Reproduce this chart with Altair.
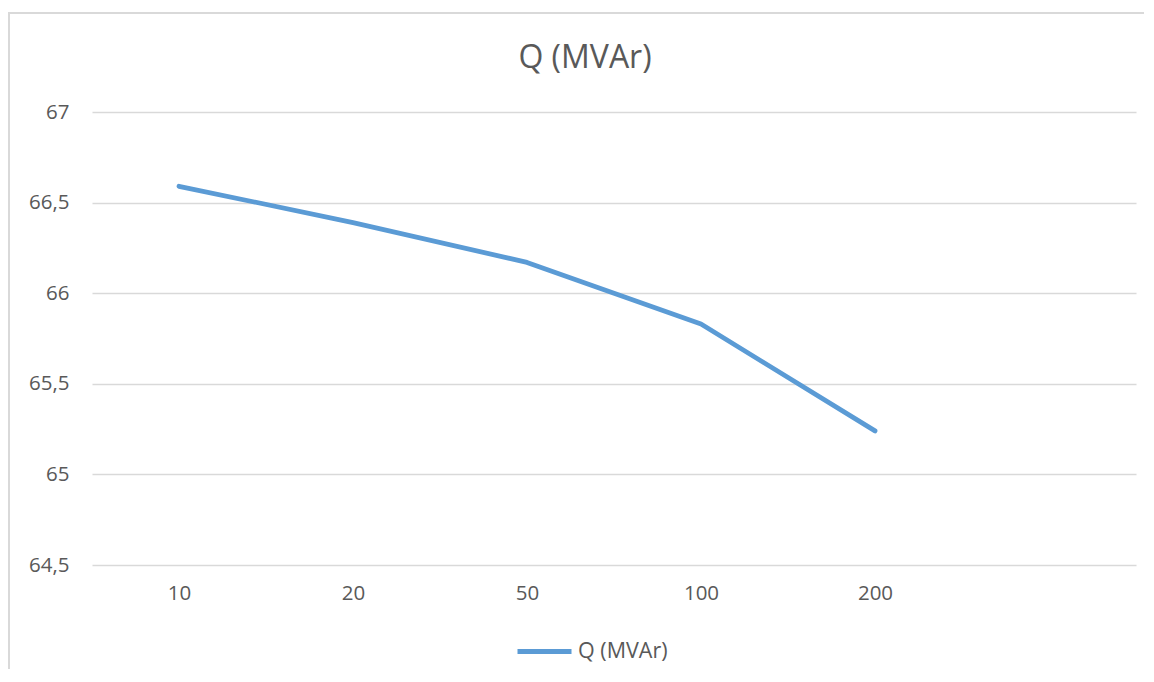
import altair as alt
import pandas as pd

categories = ["10", "20", "50", "100", "200"]
values = [66.59, 66.39, 66.17, 65.83, 65.24]
series_name = "Q (MVAr)"
x_domain = categories + [" "]
y_ticks = [64.5, 65.0, 65.5, 66.0, 66.5, 67.0]

df = pd.DataFrame({"cat": categories, "val": values, "series": [series_name] * len(categories)})

FONT = "Open Sans"
GRAY = "#595959"
BLUE = "#5B9BD5"
LABEL_SIZE = 20.5

one = pd.DataFrame({"t": [series_name]})

border_top = alt.Chart(one).mark_rule(stroke="#d9d9d9", strokeWidth=2).encode(
    x=alt.value(-83), x2=alt.value(1100), y=alt.value(-99)
)
border_left = alt.Chart(one).mark_rule(stroke="#d9d9d9", strokeWidth=2).encode(
    x=alt.value(-83), y=alt.value(-100), y2=alt.value(700)
)

title = alt.Chart(one).mark_text(
    font=FONT, fontSize=32, color=GRAY, align="center", baseline="middle"
).encode(
    text="t:N", x=alt.value(493), y=alt.value(-54)
)

line = alt.Chart(df).mark_line(strokeWidth=4.8, strokeCap="round", strokeJoin="round").encode(
    x=alt.X("cat:N", sort=None, scale=alt.Scale(type="point", domain=x_domain, padding=0.5),
            axis=alt.Axis(title=None, labelAngle=0, domain=False, ticks=False, grid=False,
                          labelFont=FONT, labelFontSize=LABEL_SIZE, labelColor=GRAY, labelPadding=18)),
    y=alt.Y("val:Q", scale=alt.Scale(domain=[64.5, 67], nice=False, zero=False),
            axis=alt.Axis(title=None, values=y_ticks, domain=False, ticks=False,
                          gridColor="#d9d9d9", gridWidth=1.3,
                          labelExpr="replace(toString(datum.value), '.', ',')",
                          labelFont=FONT, labelFontSize=LABEL_SIZE, labelColor=GRAY, labelPadding=23)),
    color=alt.Color("series:N", scale=alt.Scale(range=[BLUE]),
                    legend=alt.Legend(title=None, orient="none", legendX=423, legendY=510,
                                      symbolType="stroke", symbolSize=2916, symbolStrokeWidth=4.8,
                                      labelFont=FONT, labelFontSize=21.5, labelColor=GRAY,
                                      labelOffset=4, padding=0)),
)

chart = alt.layer(border_top, border_left, title, line).properties(
    width=1044, height=453,
    padding={"left": 84, "top": 104, "right": 8, "bottom": 104},
    autosize=alt.AutoSizeParams(type="none"),
).configure_view(stroke=None)

chart.save("out.html", embed_options={"renderer": "svg", "actions": False})
